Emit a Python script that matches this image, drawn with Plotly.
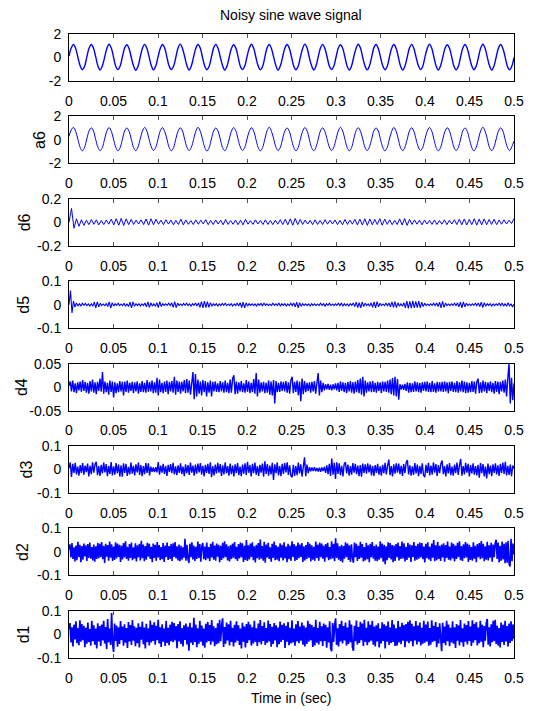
import numpy as np
import plotly.graph_objects as go

# ---------------------------------------------------------------------------
# Data: noisy 50 Hz sine over 0..0.5 s and its level-6 wavelet decomposition
# (approximation a6 and details d6..d1).  Detail values are in thousandths.
# ---------------------------------------------------------------------------
signal = [
    0.12, 0.80, 1.12, 0.76, 0.02, -0.70, -1.04, -0.75,
    0.03, 0.78, 1.10, 0.79, 0.06, -0.72, -1.06, -0.71,
    0.01, 0.77, 1.13, 0.80, 0.04, -0.74, -1.03, -0.73,
    0.06, 0.81, 1.09, 0.75, 0.00, -0.71, -1.08, -0.76,
    0.02, 0.79, 1.12, 0.78, 0.05, -0.69, -1.05, -0.72,
    0.04, 0.76, 1.11, 0.81, 0.03, -0.73, -1.02, -0.74,
    0.00, 0.80, 1.14, 0.77, 0.06, -0.70, -1.07, -0.71,
    0.05, 0.78, 1.10, 0.79, 0.01, -0.72, -1.04, -0.75,
    0.03, 0.82, 1.12, 0.76, 0.04, -0.68, -1.06, -0.73,
    0.02, 0.77, 1.09, 0.80, 0.05, -0.74, -1.03, -0.72,
    0.06, 0.79, 1.13, 0.78, 0.02, -0.71, -1.05, -0.76,
    0.01, 0.81, 1.11, 0.75, 0.03, -0.70, -1.08, -0.70,
    0.04, 0.78, 1.10, 0.79, 0.06, -0.73, -1.04, -0.74,
    0.03, 0.76, 1.14, 0.81, 0.00, -0.69, -1.06, -0.72,
    0.05, 0.80, 1.12, 0.77, 0.04, -0.72, -1.03, -0.75,
    0.02, 0.79, 1.09, 0.78, 0.05, -0.74, -1.07, -0.71,
    0.06, 0.77, 1.13, 0.80, 0.02, -0.70, -1.05, -0.73,
    0.01, 0.82, 1.11, 0.76, 0.03, -0.71, -1.04, -0.76,
    0.04, 0.78, 1.10, 0.79, 0.06, -0.73, -1.06, -0.72,
    0.03, 0.80, 1.12, 0.77, 0.01, -0.69, -1.03, -0.74,
    0.05, 0.76, 1.14, 0.80, 0.04, -0.72, -1.07, -0.70,
    0.02, 0.79, 1.09, 0.78, 0.05, -0.74, -1.05, -0.75,
    0.06, 0.81, 1.11, 0.76, 0.02, -0.70, -1.04, -0.73,
    0.00, 0.78, 1.13, 0.79, 0.03, -0.71, -1.06, -0.72,
    0.04, 0.80, 1.10, 0.77, 0.05, -0.73, -1.05, -0.74,
    0.02,
]

a6 = [
    0.30, 0.86, 1.06, 0.72, 0.05, -0.64, -0.93, -0.62,
    0.08, 0.75, 1.03, 0.76, 0.04, -0.62, -0.91, -0.65,
    0.07, 0.73, 1.05, 0.74, 0.07, -0.63, -0.94, -0.64,
    0.05, 0.76, 1.02, 0.73, 0.06, -0.65, -0.92, -0.61,
    0.08, 0.74, 1.06, 0.75, 0.05, -0.61, -0.90, -0.63,
    0.06, 0.77, 1.04, 0.72, 0.08, -0.64, -0.93, -0.65,
    0.07, 0.73, 1.03, 0.76, 0.04, -0.62, -0.91, -0.62,
    0.05, 0.75, 1.07, 0.74, 0.06, -0.63, -0.95, -0.64,
    0.08, 0.76, 1.02, 0.73, 0.07, -0.65, -0.92, -0.61,
    0.06, 0.74, 1.05, 0.77, 0.05, -0.61, -0.90, -0.63,
    0.07, 0.72, 1.04, 0.75, 0.06, -0.64, -0.93, -0.65,
    0.05, 0.77, 1.08, 0.73, 0.08, -0.62, -0.91, -0.62,
    0.08, 0.75, 1.02, 0.74, 0.04, -0.63, -0.94, -0.64,
    0.06, 0.73, 1.05, 0.76, 0.07, -0.65, -0.92, -0.61,
    0.07, 0.76, 1.03, 0.72, 0.05, -0.61, -0.90, -0.63,
    0.05, 0.74, 1.07, 0.75, 0.06, -0.64, -0.93, -0.65,
    0.08, 0.77, 1.04, 0.73, 0.08, -0.62, -0.91, -0.62,
    0.06, 0.75, 1.02, 0.76, 0.04, -0.63, -0.94, -0.64,
    0.07, 0.72, 1.06, 0.74, 0.07, -0.65, -0.92, -0.61,
    0.05, 0.76, 1.03, 0.73, 0.05, -0.61, -0.90, -0.63,
    0.08, 0.74, 1.05, 0.77, 0.06, -0.64, -0.93, -0.65,
    0.06, 0.73, 1.04, 0.75, 0.08, -0.62, -0.91, -0.62,
    0.07, 0.77, 1.02, 0.72, 0.04, -0.63, -0.94, -0.64,
    0.05, 0.75, 1.08, 0.74, 0.07, -0.65, -0.92, -0.61,
    0.08, 0.74, 1.03, 0.76, 0.05, -0.62, -0.91, -0.58,
    -0.10,
]

d6 = [
    0, 118, -50, 30, -34, 22, -26, 18, -20, 24, -17, 21, -22, 15, -19,
    20, -16, 27, -22, 31, -25, 33, -27, 29, -20, 25, -18, 19, -15, 21,
    -19, 28, -24, 30, -21, 26, -16, 18, -20, 22, -15, 19, -21, 16, -18,
    27, -22, 20, -17, 15, -19, 21, -16, 18, -14, 22, -20, 16, -19, 20,
    -15, 18, -21, 24, -18, 15, -17, 19, -20, 18, -22, 25, -16, 14, -18,
    20, -15, 16, -19, 21, -18, 15, -20, 18, -16, 22, -19, 26, -21, 29,
    -25, 32, -20, 24, -18, 19, -15, 16, -20, 21, -18, 15, -19, 22, -16,
    18, -15, 20, -19, 16, -21, 24, -18, 19, -16, 25, -22, 27, -23, 30,
    -26, 28, -21, 25, -19, 31, -25, 27, -18, 21, -20, 16, -19, 29, -23,
    32, -26, 25, -18, 20, -16, 18, -21, 19, -15, 16, -18, 20, -19, 15,
    -16, 21, -20, 18, -15, 22, -19, 26, -21, 28, -23, 25, -20, 30, -24,
    27, -22, 29, -21, 24, -18, 26, -20, 19, -16, 21, -15, 18, -10, 32,
]

d5 = [
    0, 60, -35, 15, -10, 7, -6, 4, -5, 6, -3, 5, -4, 3, -6,
    4, -7, 11, -13, 12, -9, 6, -4, 3, -4, 5, -8, 12, -14, 9,
    -6, 4, -3, 6, -4, 3, -4, 6, -7, 4, -8, 11, -13, 12, -7,
    4, -3, 4, -6, 3, -4, 7, -9, 12, -11, 8, -6, 4, -7, 9,
    -12, 13, -8, 4, -3, 4, -3, 6, -4, 8, -11, 13, -12, 7, -4,
    3, -4, 5, -3, 6, -4, 3, -6, 4, -3, 7, -6, 8, -11, 13,
    -14, 15, -12, 13, -11, 9, -7, 4, -3, 4, -6, 3, -4, 5, -3,
    6, -4, 3, -4, 4, -6, 3, -4, 7, -6, 9, -12, 11, -13, 8,
    -6, 4, -3, 4, -4, 3, -6, 4, -3, 5, -4, 6, -3, 4, -4,
    3, -4, 6, -3, 4, -4, 7, -6, 4, -3, 4, -6, 3, -4, 6,
    -4, 7, -9, 11, -13, 9, -7, 4, -3, 4, -4, 3, -6, 4, -3,
    4, -4, 3, -4, 6, -3, 4, -6, 4, -3, 6, -4, 3, -4, 4,
    -3, 6, -4, 7, -6, 4, -4, 3, -6, 4, -3, 7, -8, 11, -12,
    9, -13, 12, -8, 6, -4, 3, -6, 8, -11, 12, -14, 13, -9, 6,
    -4, 3, -4, 6, -4, 7, -9, 12, -11, 13, -12, 8, -6, 4, -7,
    9, -13, 15, -16, 14, -15, 16, -13, 14, -12, 15, -13, 11, -8, 6,
    -4, 3, -4, 4, -3, 6, -4, 7, -8, 11, -13, 14, -11, 7, -4,
    3, -4, 4, -3, 6, -4, 7, -9, 11, -13, 12, -9, 6, -4, 3,
    -4, 4, -3, 6, -4, 7, -8, 11, -12, 9, -7, 4, -3, 4, -6,
    3, -4, 4, -3, 6, -4, 7, -6, 4, -7, 8, -6, 4, -10, 3,
]

d4 = [
    3, 12, -9, 14, -11, 8, -13, 10, -7, 12, -10, 15, -8, 11, -12,
    9, -14, 13, -9, 16, -12, 10, -15, 11, -8, 18, -10, 32, -14, 12,
    -11, 9, -16, 14, -10, 12, -22, 10, -13, 8, -11, 13, -9, 11, -18,
    12, -10, 14, -12, 9, -8, 11, -13, 10, -9, 12, -14, 8, -10, 13,
    -11, 9, -12, 15, -10, 11, -9, 14, -13, 10, -12, 20, -18, 16, -11,
    9, -13, 12, -10, 14, -15, 11, -9, 13, -12, 22, -16, 14, -10, 12,
    -14, 11, -9, 15, -13, 17, -12, 14, -16, 18, 32, -26, 28, -20, 16,
    -14, 12, -18, 15, -11, 13, -20, 10, -12, 14, -20, 11, -9, 12, -10,
    8, -11, 13, -9, 10, -12, 14, -11, 9, -13, 16, -12, 18, 25, -15,
    12, -14, 10, -9, 13, -11, 8, -12, 15, -10, 12, -13, 9, -11, 17,
    -14, 30, -20, 16, -12, 10, -9, 11, -13, 9, -12, 14, -16, 12, -18,
    15, -35, 13, -11, 9, -10, 12, -8, 11, -9, 13, -12, 10, -14, 15,
    22, -13, 11, -10, 14, -17, 12, -30, 18, -15, 13, -11, 9, -8, 10,
    -12, 11, -9, 13, -14, 16, 30, -18, 14, -11, 9, -7, 6, -5, 7,
    -6, 5, -7, 6, -5, 8, -7, 9, -10, 12, -8, 10, -11, 9, -13,
    11, -9, 13, -12, 10, -14, 12, -11, 15, -13, 18, -16, 22, -20, 14,
    -12, 10, -9, 12, -11, 13, -10, 9, -12, 11, -8, 10, -13, 12, -9,
    11, -10, 14, -12, 16, -15, 19, -18, 22, -20, 17, -27, 6, -5, 5,
    -6, 7, -8, 10, -12, 9, -11, 8, -10, 12, -9, 10, -11, 9, -12,
    10, -8, 11, -9, 12, -10, 9, -11, 13, -10, 8, -12, 11, -9, 10,
    -9, 11, -10, 12, -9, 10, -13, 11, -8, 12, -10, 9, -11, 13, -12,
    10, -9, 14, -11, 12, -13, 10, -12, 9, -11, 13, -10, 12, -14, 11,
    18, -13, 10, -12, 14, -9, 11, -13, 10, -8, 12, -11, 9, -14, 13,
    -10, 12, -15, 11, -9, 14, -12, 16, -20, 18, 50, -35, 20, -28, 8,
]

d3 = [
    5, 30, -32, 24, -15, 28, -21, 12, -26, 19, -14, 27, -22, 17, -11,
    25, -29, 16, -20, 31, -13, 22, 33, -24, 14, -27, 20, -17, 29, -12,
    23, -28, 15, -19, 32, -25, 13, -22, 27, -16, 21, -30, 18, -31, 26,
    -14, 24, -27, 11, -21, 29, -18, 16, -25, 22, -12, 30, -23, 19, -28,
    14, -20, 27, -15, 26, -25, 12, -10, 9, -11, 10, -12, 32, -22, 17,
    -13, 24, -19, 15, -27, 20, -11, 23, -16, 28, -21, 13, -24, 18, -14,
    26, -20, 12, -28, 22, -15, 19, -23, 29, -13, 17, -26, 21, -18, 25,
    -12, 27, -22, 16, -29, 20, -14, 24, -19, 31, -33, 15, -25, 21, -17,
    28, -13, 23, -27, 18, -21, 30, -16, 14, -26, 25, -20, 17, -29, 22,
    -15, 27, -24, 12, -28, 21, -18, 26, -23, 33, -14, 19, -30, 24, -16,
    29, -22, 15, -27, 20, -13, 25, -31, 35, -19, 23, -26, 17, -21, 28,
    -44, 22, -16, 30, -25, 14, -28, 24, -19, 27, -12, 31, -23, 18, -26,
    -33, 20, -27, 15, -24, 29, -17, 22, -30, 26, 52, -28, 21, -15, 10,
    -8, 9, -7, 10, -8, 7, -9, 8, -10, 9, -7, 11, -14, 18, -20,
    24, -27, 47, -22, 28, -40, 31, -19, 26, -24, 16, -29, 23, 32, -17,
    21, -26, 14, -22, 27, -13, 24, -20, 17, -28, 19, -31, 25, -15, 22,
    -18, 26, -12, 21, -25, 15, -27, 19, -14, 24, -22, 13, -26, 20, -16,
    28, -21, 17, 42, -24, 14, -29, 22, -18, 26, -13, 25, -20, 16, -27,
    23, -15, 29, 40, -21, 18, -26, 13, -23, 27, -17, 21, -28, 15, -19,
    26, -24, -33, 20, -14, 28, -25, 17, -22, 30, -13, 23, -27, 19, -16,
    25, 38, -20, 14, -29, 22, -17, 27, -24, 12, -26, 21, -15, 29, -23,
    18, 45, -26, 15, -21, 28, -13, 24, -30, 19, -17, 26, -22, 14, -25,
    20, -35, 27, -16, 23, -29, 13, -38, 25, -20, 17, -28, 22, -14, 26,
    -21, 18, -27, 24, -15, 29, -19, 33, -25, 16, -23, 21, -28, 17, 3,
]

d2 = [
    10, 32, -24, 38, -30, 20, -41, 27, -35, 43, -22, 30, -44, 25, -33,
    36, -19, 28, -38, 33, -26, 40, -29, 21, -36, 31, -42, 24, -30, 39,
    -27, 35, -22, 42, -31, 26, -47, 34, -20, 29, -37, 44, -25, 32, -39,
    23, -34, 41, -28, 36, -21, 30, -43, 27, -32, 38, -24, 45, -30, 22,
    -37, 33, -26, 40, -35, 19, -29, 37, -41, 28, -23, 34, -36, 47, -27,
    31, -40, 25, -33, 39, -20, 35, -30, 22, -44, 36, -26, 30, -38, 42,
    -24, 29, -35, 21, -31, 38, -43, 27, -22, 40, -34, 25, -30, 33, -39,
    37, -21, 42, -28, 24, -36, 31, -40, 26, -33, 19, -25, 56, -37, 30,
    -29, -47, 35, -23, 41, -32, 27, -38, 22, -30, 44, -26, 33, -42, 25,
    38, -31, 23, -35, 40, -28, 21, -39, 34, -24, 43, -33, 27, -37, 36,
    -20, 30, -44, 26, -34, 39, -27, 45, -22, 32, -36, 24, -41, 29, -30,
    35, -25, 42, -31, 22, -38, 33, -28, 40, -23, 37, -43, 26, -34, 51,
    -39, 28, -32, 36, -21, 41, -35, 24, -45, 30, -27, 38, -33, 53, -29,
    25, -37, 43, -46, 31, -24, 39, -30, 20, -42, 34, -26, 44, -35, 28,
    -33, 22, -40, 37, -25, 30, -36, 41, -28, 23, -44, 35, -31, 27, -38,
    45, -22, 33, -39, 26, -34, 40, -27, 31, -21, 38, -43, 24, -36, 29,
    -30, 42, -25, 35, -41, 28, -33, 22, -38, 44, -26, 31, -37, 40, -23,
    36, -29, 27, -42, 33, -24, 39, -35, 21, -31, 45, -28, 34, -40, 58,
    -26, 37, -33, 24, -39, 30, -45, 25, -29, 41, -22, 36, -34, 28, -43,
    32, -27, -46, 40, -23, 35, -38, 26, -30, 43, -25, 33, -41, 21, -36,
    39, -31, 28, -44, 34, -22, 42, -29, 25, -37, 31, -40, 23, -33, 45,
    -27, 36, -42, 30, -52, 24, -35, 41, -26, 38, -32, 29, -44, 27, -39,
    33, -23, 40, -36, 25, -30, 44, -28, 37, -41, 22, -34, 39, -25, 31,
    -43, 28, -21, 42, -37, 26, -33, 35, -29, 40, -24, 38, -31, 23, -45,
    34, -27, 41, -32, 22, -39, 36, -25, 50, -40, 28, -35, 43, -30, 26,
    -38, 31, -24, 37, -42, 29, -26, 44, -33, 23, -36, 40, -28, 34, -41,
    27, -30, 39, -22, 45, -35, 25, -39, 32, -27, 42, -24, 36, -43, 30,
    -34, 21, -37, 41, -29, 26, -44, 33, -23, 38, -31, 46, -27, 35, -40,
    24, -33, 43, -36, 28, -25, 39, -42, 31, -22, 37, 52, -30, 40, -45,
    26, -38, 44, -32, 35, -48, 41, -46, 47, -50, -62, 56, -40, 36, -10,
]

d1 = [
    20, 48, -35, 30, -52, 41, -22, 55, -38, 27, -46, 60, -31, 44, -25,
    36, -55, 28, -40, 50, -33, 22, -48, 57, -29, 38, -44, 25, -60, 47,
    -30, 35, -50, 42, -26, 58, -39, 31, -62, 65, -34, 24, -45, 90, -40,
    -75, 46, -28, 37, -53, 30, -41, 56, -24, 33, -49, 43, -36, 27, -58,
    52, -30, 39, -45, 61, -27, 34, -51, 28, -38, 47, -56, 32, -23, 54,
    -42, 29, -60, 45, -33, 26, -47, 59, -35, 40, -28, 51, -44, 36, -25,
    62, -39, 30, -54, 43, -31, 25, -50, 57, -37, 28, -46, 41, -29, 53,
    -34, 48, -26, 35, -59, 44, -30, 55, -41, 27, -52, 38, -24, 46, -43,
    32, -70, 49, -36, 29, -45, 70, -33, 41, -55, 26, -40, 58, -31, 37,
    -48, 24, -57, 45, -35, 52, -28, 39, -44, 61, -30, 34, -51, 27, -42,
    47, -38, 62, -29, 36, 68, -54, 31, -40, 50, -26, 43, -47, 58, -33,
    28, -52, 40, -35, 55, -27, 38, -45, 24, -60, 49, -31, 33, -56, 44,
    -37, 53, -25, 42, -48, 30, -39, 57, -32, 26, -50, 46, -34, 61, -43,
    35, -28, 51, -45, 27, -36, 59, -30, 44, -53, 32, -41, 48, -26, 38,
    -55, 29, -42, 54, -33, 40, -24, 47, -58, 36, -31, 52, -46, 28, -39,
    60, -35, 25, -49, 43, -30, 56, -38, 33, -27, 50, -44, 37, -52, 29,
    -41, 58, -32, 45, -25, 39, -54, 31, -47, 62, -36, 27, -43, 53, -29,
    34, -50, 46, -28, 40, -57, 30, -35, 55, -60, -72, 48, -33, 38, 68,
    -45, 26, -52, 44, -30, 57, -39, 35, -26, 50, -48, 29, -41, 60, -34,
    42, -55, -70, 36, -29, 59, -43, 31, -37, 53, -25, 46, -50, 62, -32,
    28, -46, 55, -34, 40, -27, 58, -44, 33, -52, 38, -30, 47, -56, 25,
    -39, 51, -28, 43, -60, 36, -31, 54, -45, 29, -37, 61, -33, 42, -50,
    26, -48, 57, -35, 32, -42, 49, -27, 39, -55, 44, -30, 53, -38, 60,
    -29, 45, -51, 34, -26, 56, -43, 37, -32, 50, -47, 28, -40, 58, -36,
    41, -30, 54, -49, 27, -44, 60, -33, 36, -28, 52, -55, 31, -39, 47,
    -25, -72, 49, -37, 33, -46, 57, -29, 42, -51, 28, -35, 55, -40, 30,
    -58, 44, -27, 38, -48, 61, -34, 26, -53, 46, -31, 39, -43, 56, -28,
    33, -50, 60, -36, 45, -25, 52, -47, 29, -38, 58, -32, 41, -55, 35,
    -27, 48, 65, -44, 30, -52, 43, -34, 57, -29, 62, -41, 36, -48, 27,
    -56, 50, -33, 40, -45, 58, -30, 35, -52, 46, -37, 55, -28, 42, -20,
]

panel_labels = ["", "a6", "d6", "d5", "d4", "d3", "d2", "d1"]
y_limits = [(-2, 2), (-2, 2), (-0.2, 0.2), (-0.1, 0.1),
            (-0.05, 0.05), (-0.1, 0.1), (-0.1, 0.1), (-0.1, 0.1)]
y_tick_text = [["-2", "0", "2"], ["-2", "0", "2"], ["-0.2", "0", "0.2"],
               ["-0.1", "0", "0.1"], ["-0.05", "0", "0.05"], ["-0.1", "0", "0.1"],
               ["-0.1", "0", "0.1"], ["-0.1", "0", "0.1"]]
x_tick_vals = [0, 0.05, 0.1, 0.15, 0.2, 0.25, 0.3, 0.35, 0.4, 0.45, 0.5]
x_tick_text = ["0", "0.05", "0.1", "0.15", "0.2", "0.25", "0.3", "0.35", "0.4", "0.45", "0.5"]

title_text = "Noisy sine wave signal"
x_title_text = "Time in (sec)"

# ---------------------------------------------------------------------------
# Layout geometry (pixels) and styling
# ---------------------------------------------------------------------------
W, H = 534, 711
LEFT, RIGHT = 69, 514
TOP0, STEP, PANEL_H = 34, 82.4, 47
LABEL_X = [None, 40, 24, 24, 21, 26, 23, 23]
LINE_W = [1.4, 1.0, 1.0, 1.1, 1.4, 1.4, 1.6, 1.7]

FONT_FAMILY = "Liberation Sans, Arial, sans-serif"
TICK_FONT = dict(family=FONT_FAMILY, size=14, color="black")
LABEL_FONT = dict(family=FONT_FAMILY, size=16, color="black")

series = [np.array(signal), np.array(a6),
          np.array(d6) / 1000, np.array(d5) / 1000, np.array(d4) / 1000,
          np.array(d3) / 1000, np.array(d2) / 1000, np.array(d1) / 1000]

fig = go.Figure()
layout_axes = {}
annotations = []

for i, vals in enumerate(series):
    n = i + 1
    xname = "x" if n == 1 else f"x{n}"
    yname = "y" if n == 1 else f"y{n}"
    t = np.linspace(0, 0.5, len(vals))
    fig.add_trace(go.Scatter(
        x=t, y=vals, mode="lines",
        line=dict(color="#0000ff", width=LINE_W[i],
                  shape="spline" if i < 2 else "linear"),
        xaxis=xname, yaxis=yname, showlegend=False, hoverinfo="skip",
    ))

    top = TOP0 + STEP * i
    bottom = top + PANEL_H
    lo, hi = y_limits[i]
    layout_axes["xaxis" if n == 1 else f"xaxis{n}"] = dict(
        domain=[LEFT / W, RIGHT / W], anchor=yname, range=[0, 0.5],
        tickmode="array", tickvals=x_tick_vals, ticktext=x_tick_text,
        ticks="inside", ticklen=4, tickwidth=1, tickcolor="#555555",
        showline=True, linecolor="black", linewidth=1, mirror="allticks",
        showgrid=False, zeroline=False, tickfont=TICK_FONT,
        ticklabelstandoff=7, automargin=False, fixedrange=True,
    )
    layout_axes["yaxis" if n == 1 else f"yaxis{n}"] = dict(
        domain=[1 - bottom / H, 1 - top / H], anchor=xname, range=[lo, hi],
        tickmode="array", tickvals=[lo, 0, hi], ticktext=y_tick_text[i],
        ticks="", showline=True, linecolor="black", linewidth=1, mirror=True,
        showgrid=False, zeroline=False, tickfont=TICK_FONT,
        ticklabelstandoff=4, automargin=False, fixedrange=True,
    )

    if panel_labels[i]:
        annotations.append(dict(
            text=panel_labels[i], x=LABEL_X[i] / W, y=1 - (top + PANEL_H / 2) / H,
            xref="paper", yref="paper", xanchor="center", yanchor="middle",
            textangle=-90, showarrow=False, font=LABEL_FONT,
        ))

annotations.append(dict(
    text=title_text, x=(LEFT + RIGHT) / 2 / W, y=1 - 15 / H,
    xref="paper", yref="paper", xanchor="center", yanchor="middle",
    showarrow=False, font=TICK_FONT,
))
annotations.append(dict(
    text=x_title_text, x=(LEFT + RIGHT) / 2 / W, y=1 - 698 / H,
    xref="paper", yref="paper", xanchor="center", yanchor="middle",
    showarrow=False, font=TICK_FONT,
))

fig.update_layout(
    width=W, height=H, margin=dict(l=0, r=0, t=0, b=0, autoexpand=False),
    paper_bgcolor="white", plot_bgcolor="white",
    annotations=annotations, **layout_axes,
)

fig.write_html("out.html")
